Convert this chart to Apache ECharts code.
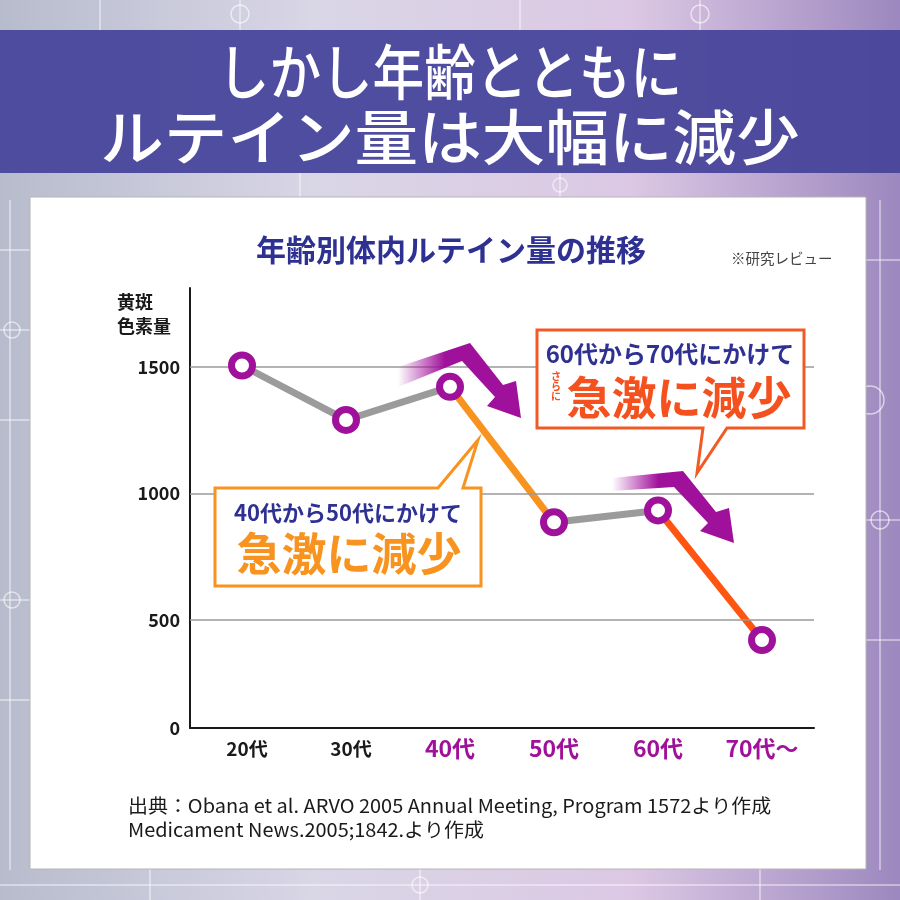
<!DOCTYPE html>
<html><head><meta charset="utf-8">
<script src="https://cdn.jsdelivr.net/npm/echarts@6/dist/echarts.min.js"></script>
<style>html,body{margin:0;padding:0;background:#fff;}#c{width:900px;height:900px;}</style>
</head><body><div id="c"></div>
<script>
// ---- data ----
const categories = ['20代', '30代', '40代', '50代', '60代', '70代～'];
const values = [1505, 1290, 1421, 886, 933, 421];
// y tick positions (the chart's baseline is labelled "0")
const yTickValues = [74, 500, 1000, 1500];
const yTickLabels = ['0', '500', '1000', '1500'];
const gridValues = [500, 1000, 1500];
// line segments [fromIndex, toIndex]
const segGray1 = [0, 2];
const segOrange = [2, 3];
const segGray2 = [3, 4];
const segRed = [4, 5];

const FONT = '"Noto Sans CJK JP", "Noto Sans", sans-serif';
const MAG = '#a0119b';
const NAVY = '#2e3192';

function segData(seg) {
  return values.map((v, i) => (i >= seg[0] && i <= seg[1]) ? v : null);
}
function segSeries(seg, color) {
  return { type: 'line', data: segData(seg), symbol: 'none', connectNulls: false, z: 3,
    lineStyle: { color: color, width: 7 }, silent: true, animation: false };
}

function arrow(points) {
  return { type: 'polygon', z: 60, shape: { points: points },
    style: { fill: { type: 'linear', x: 0, y: 0, x2: 1, y2: 0,
      colorStops: [{ offset: 0, color: 'rgba(160,17,155,0)' }, { offset: 0.38, color: MAG }, { offset: 1, color: MAG }] } } };
}

const deco = [];
const decoLines = [
  [[0, 250], [30, 250]], [[0, 330], [30, 330]], [[0, 420], [30, 420]], [[10, 200], [10, 870]],
  [[0, 600], [30, 600]], [[0, 700], [30, 700]], [[866, 260], [900, 260]], [[880, 200], [880, 870]],
  [[866, 520], [900, 520]], [[866, 640], [900, 640]], [[100, 0], [100, 30]], [[240, 0], [240, 30]],
  [[520, 0], [520, 30]], [[700, 0], [700, 30]], [[300, 173], [300, 197]], [[560, 173], [560, 197]],
  [[0, 885], [900, 885]], [[150, 869], [150, 900]], [[420, 869], [420, 900]], [[760, 869], [760, 900]]
];
decoLines.forEach(l => deco.push({ type: 'line', z: -20, shape: { x1: l[0][0], y1: l[0][1], x2: l[1][0], y2: l[1][1] },
  style: { stroke: 'rgba(255,255,255,0.55)', lineWidth: 1.5 } }));
const decoCircles = [[12, 330, 8], [12, 600, 8], [880, 520, 9], [240, 14, 9], [700, 14, 9], [560, 185, 7], [420, 885, 8], [870, 400, 14]];
decoCircles.forEach(c => deco.push({ type: 'circle', z: -20, shape: { cx: c[0], cy: c[1], r: c[2] },
  style: { fill: 'none', stroke: 'rgba(255,255,255,0.6)', lineWidth: 1.5 } }));

const chart = echarts.init(document.getElementById('c'), null, { renderer: 'canvas' });
chart.setOption({
  animation: false,
  backgroundColor: { type: 'linear', x: 0, y: 0, x2: 1, y2: 0,
    colorStops: [{ offset: 0, color: '#b7bccd' }, { offset: 0.35, color: '#d9d6e6' }, { offset: 0.7, color: '#dcc8e4' }, { offset: 1, color: '#9d88bf' }] },
  grid: { left: 190, right: 86, top: 288, bottom: 172, containLabel: false },
  xAxis: {
    type: 'category', data: categories, boundaryGap: true,
    axisLine: { lineStyle: { color: '#1a1a1a', width: 2 } },
    axisTick: { inside: true, length: 10, lineStyle: { color: '#1a1a1a', width: 2 } },
    axisLabel: {
      margin: 9, interval: 0,
      formatter: (v, i) => i < 2 ? '{a|' + v + '}' : '{b|' + v + '}',
      rich: {
        a: { fontFamily: FONT, fontSize: 19, fontWeight: 'bold', color: '#1a1a1a', padding: [2, 0, 0, 10] },
        b: { fontFamily: FONT, fontSize: 23, fontWeight: 'bold', color: MAG }
      }
    }
  },
  yAxis: {
    type: 'value', min: 74, max: 1811,
    axisLine: { show: true, lineStyle: { color: '#1a1a1a', width: 2 } },
    axisTick: { show: false },
    splitLine: { show: false },
    axisLabel: {
      customValues: yTickValues, margin: 10,
      formatter: v => { const k = yTickValues.indexOf(v); return k >= 0 ? yTickLabels[k] : ''; },
      fontFamily: FONT, fontSize: 18, fontWeight: 'bold', color: '#1a1a1a'
    }
  },
  series: [
    { type: 'line', data: [], z: 1, silent: true,
      markLine: { silent: true, symbol: 'none', label: { show: false },
        lineStyle: { color: '#9a9a9a', width: 1.5, type: 'solid' },
        data: gridValues.map(v => ({ yAxis: v })) } },
    segSeries(segGray1, '#9b9b9b'),
    segSeries(segOrange, '#f7931e'),
    segSeries(segGray2, '#9b9b9b'),
    segSeries(segRed, '#ff5511'),
    { type: 'scatter', data: values, z: 5, symbol: 'circle', symbolSize: 21,
      itemStyle: { color: '#ffffff', borderColor: MAG, borderWidth: 7, opacity: 1 } }
  ],
  graphic: deco.concat([
    { type: 'rect', z: -10, shape: { x: 0, y: 30, width: 900, height: 143 }, style: { fill: 'rgba(72,70,155,0.95)' } },
    { type: 'text', z: -9, x: 450, y: 72, scaleX: 0.86, style: { text: 'しかし年齢とともに', align: 'center', verticalAlign: 'middle',
        font: '500 60px ' + FONT, fill: '#ffffff' } },
    { type: 'text', z: -9, x: 450, y: 137, scaleX: 1.06, style: { text: 'ルテイン量は大幅に減少', align: 'center', verticalAlign: 'middle',
        font: '500 60px ' + FONT, fill: '#ffffff' } },
    { type: 'rect', z: -10, shape: { x: 30, y: 197, width: 836, height: 672 }, style: { fill: '#ffffff', stroke: '#b5b5b5', lineWidth: 1 } },
    { type: 'text', z: 50, x: 451, y: 250, style: { text: '年齢別体内ルテイン量の推移', align: 'center', verticalAlign: 'middle',
        font: 'bold 30px ' + FONT, fill: NAVY } },
    { type: 'text', z: 50, x: 731, y: 258, style: { text: '※研究レビュー', align: 'left', verticalAlign: 'middle',
        font: '14.5px ' + FONT, fill: '#444' } },
    { type: 'text', z: 50, x: 117, y: 302, style: { text: '黄斑', align: 'left', verticalAlign: 'middle', font: 'bold 18px ' + FONT, fill: '#1a1a1a' } },
    { type: 'text', z: 50, x: 117, y: 326, style: { text: '色素量', align: 'left', verticalAlign: 'middle', font: 'bold 18px ' + FONT, fill: '#1a1a1a' } },
    arrow([[398, 367], [470, 343], [503, 385], [516, 381], [521, 418], [487, 406], [495, 397], [462, 361], [398, 387]]),
    arrow([[612, 478], [683, 471], [716, 512], [729, 508], [734, 543], [700, 531], [708, 523], [674, 487], [612, 491]]),
    { type: 'polygon', z: 55, shape: { points: [[215, 488], [438, 488], [478, 440], [463, 488], [481, 488], [481, 586], [215, 586]] },
      style: { fill: '#ffffff', stroke: '#f7931e', lineWidth: 3, lineJoin: 'miter' } },
    { type: 'text', z: 56, x: 348, y: 513, style: { text: '40代から50代にかけて', align: 'center', verticalAlign: 'middle', font: 'bold 22px ' + FONT, fill: NAVY } },
    { type: 'text', z: 56, x: 349, y: 554, style: { text: '急激に減少', align: 'center', verticalAlign: 'middle', font: 'bold 45px ' + FONT, fill: '#f7931e' } },
    { type: 'polygon', z: 55, shape: { points: [[537, 330], [804, 330], [804, 428], [727, 428], [697, 473], [703, 428], [537, 428]] },
      style: { fill: '#ffffff', stroke: '#f15a24', lineWidth: 3, lineJoin: 'miter' } },
    { type: 'text', z: 56, x: 670, y: 354, style: { text: '60代から70代にかけて', align: 'center', verticalAlign: 'middle', font: 'bold 24px ' + FONT, fill: NAVY } },
    { type: 'text', z: 56, x: 556, y: 386, style: { text: 'さ\nら\nに', align: 'center', verticalAlign: 'middle', font: 'bold 10px ' + FONT, lineHeight: 10, fill: '#f4511e' } },
    { type: 'text', z: 56, x: 679, y: 398, style: { text: '急激に減少', align: 'center', verticalAlign: 'middle', font: 'bold 45px ' + FONT, fill: '#f4511e' } },
    { type: 'text', z: 50, x: 128, y: 806, scaleX: 1.05, style: { text: '出典：Obana et al. ARVO 2005 Annual Meeting, Program 1572より作成', align: 'left', verticalAlign: 'middle', font: '19px ' + FONT, fill: '#1a1a1a' } },
    { type: 'text', z: 50, x: 128, y: 830, scaleX: 1.05, style: { text: 'Medicament News.2005;1842.より作成', align: 'left', verticalAlign: 'middle', font: '19px ' + FONT, fill: '#1a1a1a' } }
  ])
});
</script>
</body></html>
